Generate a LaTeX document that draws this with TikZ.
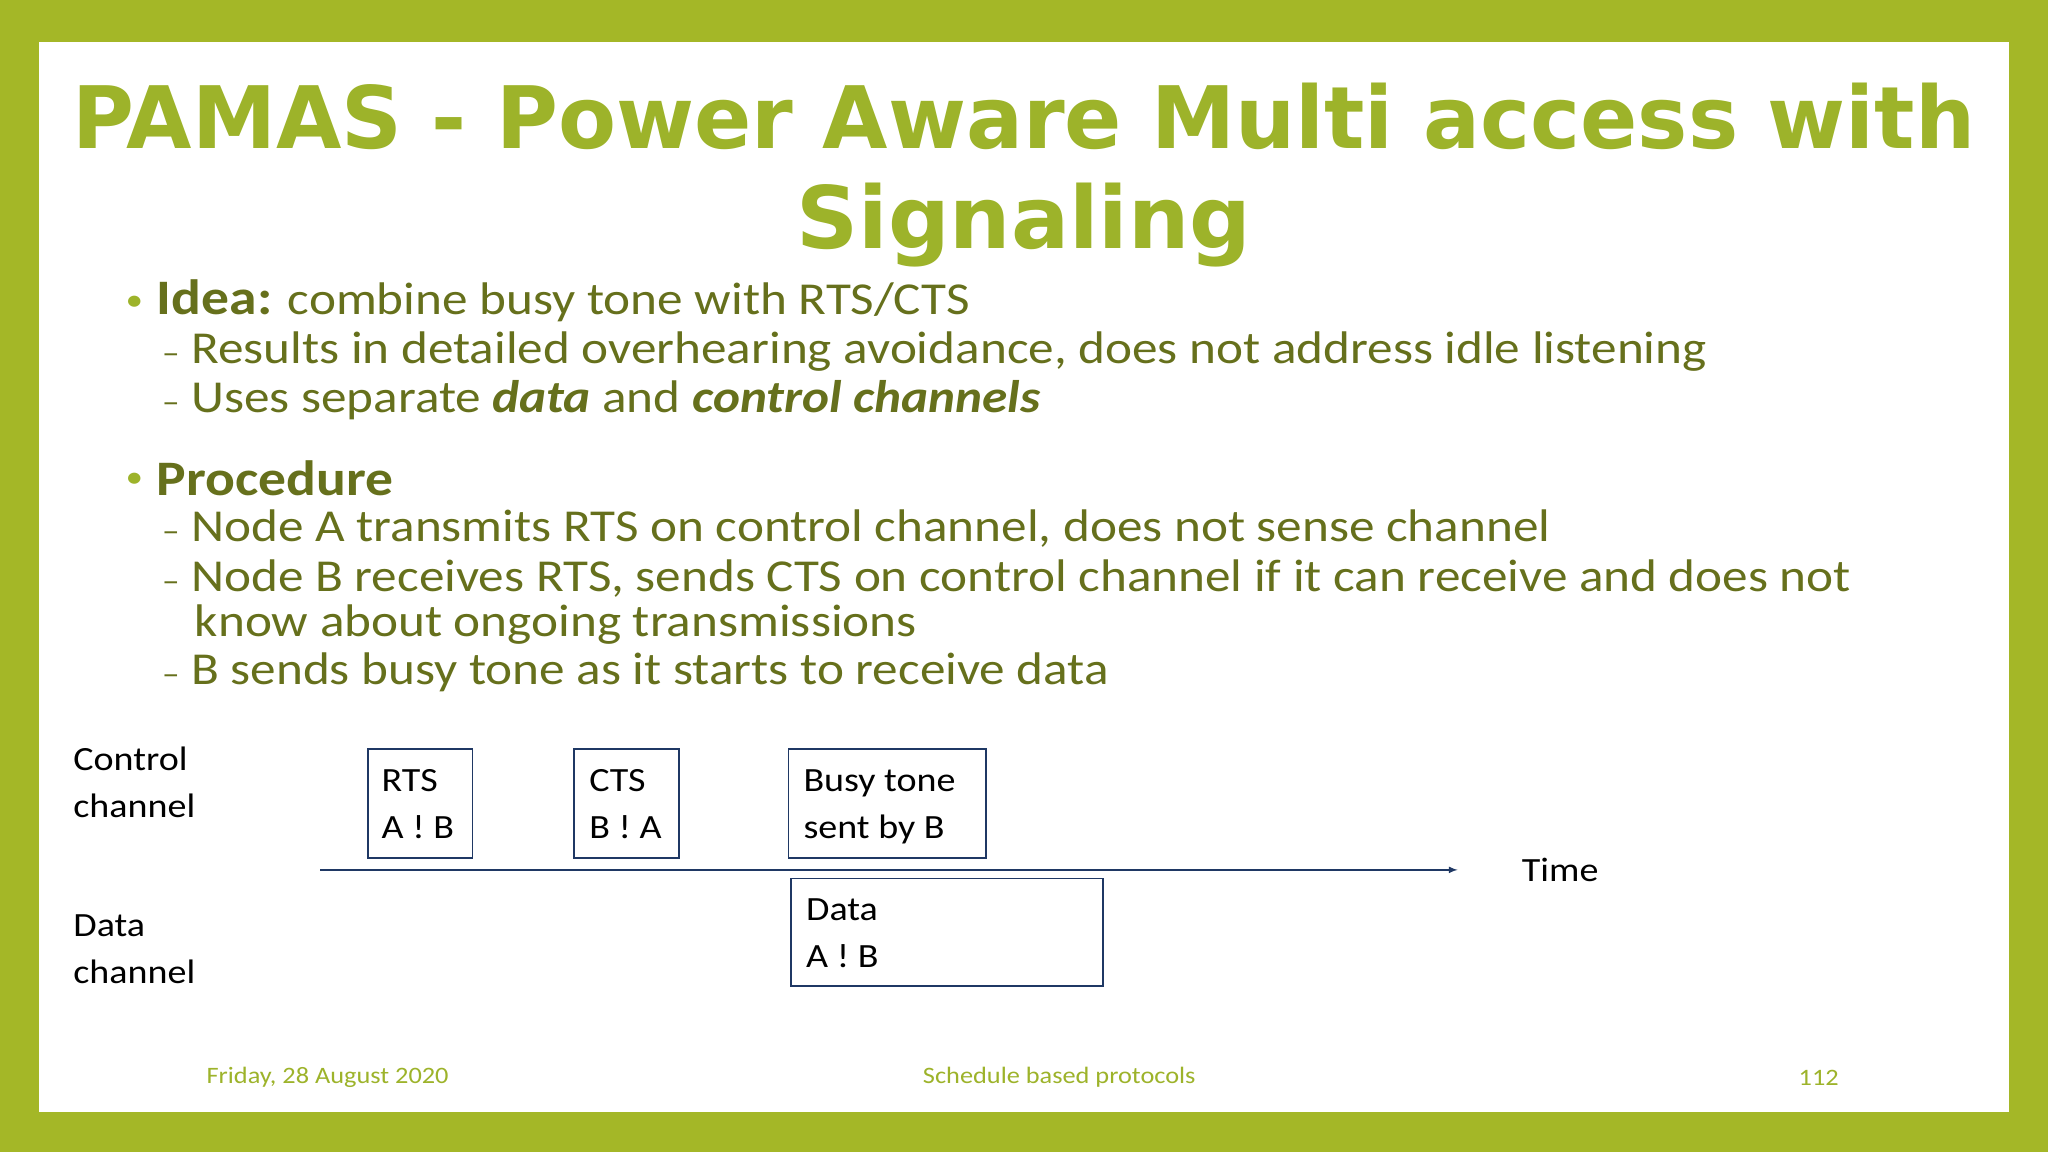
\documentclass[tikz,border=0pt]{standalone}
\usepackage{fontspec}
\setmainfont[FakeStretch=1.12]{Carlito}
\newfontfamily\titlefont{DejaVu Sans}
\definecolor{frame}{HTML}{A4B727}
\definecolor{ttl}{HTML}{9DB32A}
\definecolor{body}{HTML}{66701C}
\definecolor{navy}{HTML}{1F3864}
\begin{document}
\begin{tikzpicture}[x=1pt,y=-1pt,
  txt/.style={anchor=west,inner sep=0pt,text=body,font=\fontsize{35}{38}\selectfont},
  box/.style={draw=navy,line width=1.3pt,anchor=north west,inner sep=0pt,align=left,font=\fontsize{26}{36}\selectfont},
  lab/.style={anchor=north west,inner sep=0pt,align=left,font=\fontsize{26}{36}\selectfont},
  foot/.style={inner sep=0pt,text=ttl,font=\fontsize{18}{20}\selectfont}]
\fill[frame] (0,0) rectangle (1568,882);
\fill[white] (30,32) rectangle (1538,851);
\node[inner sep=0pt,text=ttl,align=center,font=\titlefont\bfseries\fontsize{66}{76}\selectfont] (title) at (784,134) {\scalebox{0.98}[1]{PAMAS - Power Aware Multi access with}\\Signaling};
\node[txt,text=ttl,font=\fontsize{24}{26}\selectfont] (b1) at (96,232) {\textbullet};
\node[txt] (i1) at (120,230) {\textbf{\fontsize{38}{40}\selectfont Idea:} combine busy tone with RTS/CTS};
\node[txt] (i2) at (124,269) {{\fontsize{24}{26}\selectfont –} Results in detailed overhearing avoidance, does not address idle listening};
\node[txt] (i3) at (124,306) {{\fontsize{24}{26}\selectfont –} Uses separate \textbf{\textit{data}} and \textbf{\textit{control channels}}};
\node[txt,text=ttl,font=\fontsize{24}{26}\selectfont] (b2) at (96,368) {\textbullet};
\node[txt] (p1) at (120,366) {\textbf{\fontsize{38}{40}\selectfont Procedure}};
\node[txt] (p2) at (124,405) {{\fontsize{24}{26}\selectfont –} Node A transmits RTS on control channel, does not sense channel};
\node[txt] (p3) at (124,443) {{\fontsize{24}{26}\selectfont –} Node B receives RTS, sends CTS on control channel if it can receive and does not};
\node[txt] (p4) at (149,478) {know about ongoing transmissions};
\node[txt] (p5) at (124,515) {{\fontsize{24}{26}\selectfont –} B sends busy tone as it starts to receive data};
\node[lab] (cc) at (56,572) {Control\\channel};
\node[lab] (dc) at (56,700) {Data\\channel};
\node[box,minimum width=80,minimum height=83] (rts) at (281,573) {};
\node[lab] at (292,589) {RTS\\A ! B};
\node[box,minimum width=80,minimum height=83] (cts) at (439,573) {};
\node[lab] at (451,589) {CTS\\B ! A};
\node[box,minimum width=151,minimum height=83] (busy) at (603,573) {};
\node[lab] at (615,589) {Busy tone\\sent by B};
\node[box,minimum width=239,minimum height=82] (data) at (605,672) {};
\node[lab] at (617,688) {Data\\A ! B};
\coordinate (t0) at (245,666);
\node[anchor=west,inner sep=0pt,font=\fontsize{26}{30}\selectfont] (time) at (1165,666) {Time};
\draw[navy,line width=1.3pt,-latex] (t0) -- (1116,666);
\node[foot,anchor=west] (f1) at (158,825) {Friday, 28 August 2020};
\node[foot] (f2) at (811,825) {Schedule based protocols};
\node[foot,anchor=east] (f3) at (1408,825) {112};
\end{tikzpicture}
\end{document}
